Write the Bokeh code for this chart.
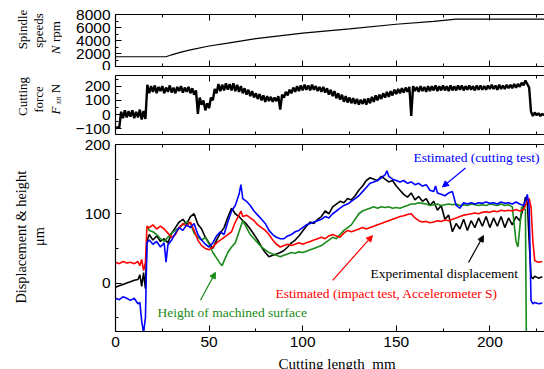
import math
from bokeh.plotting import figure
from bokeh.layouts import column, row
from bokeh.models import Range1d, LinearAxis, FixedTicker, Label, Arrow, NormalHead
from bokeh.core.properties import value
from bokeh.embed import file_html
from bokeh.resources import INLINE

# ---------------- data ----------------
# Spindle speed N [rpm] vs cutting length [mm]
spindle_x = [0, 27, 30, 35, 40, 50, 60, 75, 100, 125, 150, 170, 182, 229]
spindle_n = [1500, 1500, 1800, 2200, 2550, 3150, 3600, 4300, 5130, 5800, 6500, 6950, 7300, 7300]

# Cutting force F_xn [N], sampled every 1 mm (0 ... 229)
force_x = list(range(0, 230))
force_f = [-95, -90, -92, 20, -25, 30, -20, 25, -15, 30, -25, 20, -20, 35, -35, 25, -30,
           210, 150, 200, 160, 205, 150, 195, 165, 200, 150, 190, 160, 205, 155, 190, 150,
           195, 165, 200, 155, 190, 160, 195, 150, 185, 140, 170, 5, 120, 70, 100, 30, 80,
           45, 120, 100, 180, 150, 215, 165, 210, 170, 220, 175, 215, 170, 220, 165, 210,
           160, 200, 150, 185, 140, 175, 130, 165, 120, 150, 110, 145, 100, 135, 90, 130,
           95, 125, 90, 120, 95, 130, 35, 140, 120, 160, 135, 175, 150, 190, 160, 200, 165,
           205, 170, 210, 175, 205, 170, 210, 175, 200, 165, 195, 160, 195, 155, 185, 140,
           175, 130, 165, 115, 150, 105, 140, 90, 130, 85, 120, 80, 115, 75, 110, 70, 105,
           75, 110, 70, 115, 80, 125, 90, 135, 100, 140, 110, 150, 120, 160, 125, 165, 135,
           175, 145, 180, 150, 185, 155, 190, 160, 195, -10, 200, 165, 195, 160, 200, 165,
           195, 160, 200, 165, 200, 170, 205, 165, 200, 170, 205, 170, 200, 165, 205, 170,
           200, 170, 205, 175, 205, 170, 200, 175, 205, 175, 200, 170, 205, 175, 205, 175,
           200, 175, 205, 180, 210, 180, 205, 175, 210, 180, 205, 180, 210, 185, 210, 185,
           215, 190, 215, 195, 225, 205, 240, 215, 190, 20, -10, 15, -5, 10, -10, 5, -5]

# Experimental displacement [um]
exp_x = [0, 2, 4, 6, 8, 10, 12, 13, 14, 15, 16, 16.8, 18, 20, 22, 24, 26, 28, 30, 32, 34, 36, 38,
         40, 42, 44, 46, 48, 50, 52, 54, 56, 58, 60, 62, 64, 66, 68, 70, 72, 74, 76, 78, 80, 82,
         84, 86, 88, 90, 92, 94, 96, 98, 100, 102, 104, 106, 108, 110, 112, 114, 116, 118, 120,
         122, 124, 126, 128, 130, 132, 134, 136, 138, 140, 142, 144, 146, 148, 150, 152, 154,
         156, 158, 160, 162, 164, 166, 168, 170, 172, 174, 176, 178, 180, 182, 184, 186, 188,
         190, 192, 194, 196, 198, 200, 202, 204, 206, 208, 210, 212, 214, 216, 218, 219, 220,
         221, 222, 223, 224, 226, 228]
exp_y = [-6, -4, -2, 0, 2, 4, 5, 12, -5, 15, -8, 60, 70, 62, 68, 60, 64, 58, 72, 80, 88, 92, 85,
         96, 100, 85, 78, 66, 58, 50, 62, 72, 80, 95, 108, 100, 96, 90, 85, 78, 70, 62, 52, 44, 38,
         40, 42, 44, 47, 52, 58, 62, 68, 75, 82, 88, 86, 92, 96, 104, 100, 110, 114, 118,
         116, 122, 120, 126, 134, 140, 148, 152, 150, 148, 154, 150, 146, 148, 140, 134, 128,
         124, 130, 120, 125, 118, 122, 112, 118, 105, 112, 92, 98, 74, 86, 78, 92, 76,
         90, 80, 94, 82, 96, 80, 94, 82, 96, 80, 94, 84, 96, 90, 110, 124, 118,
         60, 10, 6, 10, 7, 9]

# Estimated (cutting test) [um]
cut_x = [0, 2, 4, 6, 8, 10, 12, 13, 14, 15, 16, 16.8, 18, 20, 22, 24, 26, 27, 28, 30, 32, 34, 36,
         38, 40, 42, 44, 46, 48, 50, 52, 54, 56, 58, 60, 62, 64, 66, 67, 68, 70, 72, 74, 76, 78,
         80, 82, 84, 86, 88, 90, 92, 94, 96, 98, 100, 102, 104, 106, 108, 110, 112, 114, 116,
         118, 120, 122, 124, 126, 128, 130, 132, 134, 136, 138, 140, 142, 144, 145, 146, 148,
         150, 152, 154, 156, 158, 160, 162, 164, 166, 168, 170, 171, 172, 174, 176, 178, 180,
         182, 184, 186, 188, 190, 192, 194, 196, 198, 200, 202, 204, 206, 208, 210, 212, 214,
         216, 218, 219, 220, 221, 222, 223, 224, 226, 228]
cut_y = [-22, -24, -20, -22, -25, -22, -30, -28, -55, -72, -50, 58, 62, 56, 60, 52, 58, 30, 55, 62,
         72, 80, 76, 84, 80, 86, 70, 62, 56, 52, 58, 68, 74, 70, 88, 104, 112, 128, 142, 122, 118,
         112, 104, 98, 92, 86, 76, 70, 66, 64, 64, 68, 70, 74, 76, 80, 84, 86, 88, 90, 92, 96, 94,
         100, 104, 108, 112, 114, 118, 122, 126, 132, 138, 144, 146, 148, 152, 156, 162, 154,
         150, 148, 146, 148, 144, 146, 142, 144, 140, 142, 134, 132, 140, 130, 128, 126, 130,
         132, 112, 108, 116, 114, 116, 114, 116, 115, 117, 115, 116, 114, 117, 115, 116, 114,
         117, 114, 112, 118, 128, 110, -25, -30, -28, -30, -29]

# Estimated (impact test, Accelerometer S) [um]
imp_x = [0, 2, 4, 6, 8, 10, 12, 13, 14, 15, 16, 16.8, 18, 20, 22, 24, 26, 28, 30, 32, 34, 36, 38,
         40, 42, 44, 46, 48, 50, 52, 54, 56, 58, 60, 62, 64, 66, 67, 68, 70, 72, 74, 76, 78, 80,
         82, 84, 86, 88, 90, 92, 94, 96, 98, 100, 102, 104, 106, 108, 110, 112, 114, 116, 118,
         120, 122, 124, 126, 128, 130, 132, 134, 136, 138, 140, 142, 144, 146, 148, 150, 152,
         154, 156, 158, 160, 162, 164, 166, 168, 170, 172, 174, 176, 178, 180, 182, 184, 186,
         188, 190, 192, 194, 196, 198, 200, 202, 204, 206, 208, 210, 212, 214, 216, 218, 220,
         221, 222, 223, 224, 226, 228]
imp_y = [30, 28, 31, 29, 30, 28, 31, 25, 34, 18, 30, 82, 80, 84, 78, 82, 78, 72, 66, 70, 80, 86, 82,
         88, 76, 62, 54, 50, 48, 52, 58, 62, 66, 70, 74, 88, 98, 104, 96, 98, 94, 90, 84, 80, 76,
         70, 62, 56, 52, 54, 56, 54, 56, 58, 56, 58, 60, 62, 64, 66, 64, 68, 70, 68,
         66, 72, 76, 74, 76, 78, 80, 78, 80, 82, 84, 86, 88, 90, 92, 94, 96,
         97, 99, 100, 94, 90, 88, 89, 87, 88, 90, 89, 91, 90, 92, 94, 96, 98,
         99, 100, 101, 100, 102, 103, 102, 104, 103, 105, 104, 105, 104, 106, 104, 106, 118,
         122, 110, 60, 32, 30, 31]

# Height of machined surface [um]
hgt_x = [17, 18, 20, 22, 24, 26, 28, 30, 32, 34, 36, 38, 40, 42, 44, 46, 48, 50, 52, 54, 56, 57,
         58, 60, 62, 64, 66, 68, 70, 72, 74, 76, 78, 80, 82, 84, 86, 88, 90, 92, 94, 96, 98, 100,
         102, 104, 106, 108, 110, 112, 114, 116, 118, 120, 122, 124, 126, 128, 130, 132, 134,
         136, 138, 140, 142, 144, 146, 148, 150, 152, 154, 156, 158, 160, 162, 164, 166, 168,
         170, 172, 174, 176, 178, 180, 182, 184, 186, 188, 190, 192, 194, 196, 198, 200, 202,
         204, 206, 208, 210, 212, 214, 215, 216, 217, 218, 219, 219.5]
hgt_y = [82, 76, 74, 70, 64, 60, 66, 72, 76, 80, 84, 88, 86, 72, 66, 62, 66, 56, 44, 36, 28, 25,
         32, 44, 52, 58, 74, 90, 80, 70, 64, 58, 52, 48, 44, 42, 40, 38, 40, 42, 44, 43, 45, 44,
         46, 48, 50, 52, 54, 58, 62, 66, 64, 70, 76, 80, 84, 92, 100, 104, 106,
         108, 110, 108, 110, 109, 110, 108, 109, 108, 110, 112, 114, 114, 116, 115, 114, 112,
         113, 114, 112, 113, 114, 113, 114, 112, 113, 112, 114, 113, 112, 113, 112, 114, 113,
         112, 114, 112, 113, 110, 60, 52, 80, 110, 108, 106, -80]

# ---------------- styling helpers ----------------
X_END = 229.2
SERIF = "Liberation Serif"
SANS = "Liberation Sans"
GREEN = "#1a8a1a"
LABEL_W = 62
MAIN_W = 482


def make_fig(height, yr, top, bottom):
    p = figure(width=MAIN_W, height=height, x_range=Range1d(0, X_END), y_range=Range1d(*yr),
               output_backend="svg", toolbar_location=None,
               min_border_left=53, min_border_right=0, min_border_top=top,
               min_border_bottom=bottom, x_axis_location=None, y_axis_location=None)
    p.outline_line_color = None
    p.xgrid.visible = False
    p.ygrid.visible = False
    return p


def make_text_fig(width, height):
    q = figure(width=width, height=height, x_range=Range1d(0, width),
               y_range=Range1d(0, height), output_backend="svg", toolbar_location=None,
               min_border=0, x_axis_location=None, y_axis_location=None)
    q.outline_line_color = None
    q.xgrid.visible = False
    q.ygrid.visible = False
    return q


def style_axis(ax, labels=True):
    ax.axis_line_color = "black"
    ax.axis_line_width = 1.2
    ax.major_tick_in = 6
    ax.major_tick_out = 0
    ax.minor_tick_in = 3
    ax.minor_tick_out = 0
    ax.major_tick_line_color = "black"
    ax.minor_tick_line_color = "black"
    if labels:
        ax.major_label_text_font = SANS
        ax.major_label_text_font_size = "15.5px"
        ax.major_label_text_color = "black"
        ax.major_label_standoff = 5
    else:
        ax.major_label_text_font_size = "0px"
        ax.major_label_standoff = 0


def add_axes(p, yt, ymin, xlabels):
    xt = FixedTicker(ticks=[0, 50, 100, 150, 200], minor_ticks=[25, 75, 125, 175, 225])
    below = LinearAxis(ticker=xt)
    style_axis(below, xlabels)
    above = LinearAxis(ticker=xt)
    style_axis(above, False)
    left = LinearAxis(ticker=FixedTicker(ticks=yt, minor_ticks=ymin))
    style_axis(left, True)
    p.add_layout(below, "below")
    p.add_layout(above, "above")
    p.add_layout(left, "left")
    return below


H1, H2, H3 = 70, 69, 215
HL = H1 + H2 + H3
H4 = 369 - HL

# one tall strip on the left holds all the rotated y titles (page coordinates)
lab = make_text_fig(LABEL_W, HL)


def vlab(text, x, page_y, italic=False, size="13px"):
    lab.text(x=[x], y=[HL - page_y], text=[text], angle=math.pi / 2,
             text_align="center", text_baseline="middle",
             text_font=value(SERIF), text_font_size=value(size),
             text_font_style="italic" if italic else "normal",
             text_color="black")


# ---------------- panel 1: spindle speed ----------------
p1 = make_fig(H1, (0, 8000), 14, 4)
add_axes(p1, [0, 2000, 4000, 6000, 8000], [1000, 3000, 5000, 7000], False)
p1.line(spindle_x, spindle_n, line_color="black", line_width=1.2)
vlab("Spindle", 22, 29)
vlab("speeds", 38, 30)
vlab("rpm", 55, 31)
vlab("N", 55, 49.5, italic=True)

# ---------------- panel 2: cutting force ----------------
p2 = make_fig(H2, (-140, 275), 5, 5)
add_axes(p2, [-100, 0, 100, 200], [-50, 50, 150, 250], False)
p2.line(force_x, force_f, line_color="black", line_width=2.4)
vlab("Cutting", 22, 96)
vlab("force", 38, 99)
vlab("F", 55, 110, italic=True)
vlab("xn", 58, 100, italic=True, size="8px")
vlab("N", 55, 88)

# ---------------- panel 3: displacement & height ----------------
p3 = make_fig(H3, (-70, 200), 5, 23)
add_axes(p3, [0, 100, 200], [-50, 50, 150], True)
p3.line(exp_x, exp_y, line_color="black", line_width=1.6)
p3.line(hgt_x, hgt_y, line_color=GREEN, line_width=1.6)
p3.line(imp_x, imp_y, line_color="red", line_width=1.6)
p3.line(cut_x, cut_y, line_color="blue", line_width=1.6)
vlab("Displacement & height", 20, 236.7, size="14.3px")
vlab("\u03bcm", 38, 236, size="14.3px")

# bottom strip holding the x-axis title (cut by the window edge as in the reference)
l4 = make_text_fig(LABEL_W + MAIN_W, H4)
l4.text(x=[336.5], y=[H4 - (363 - HL)], text=["Cutting length\u2002mm"],
        text_align="center", text_baseline="middle", text_font=value(SERIF),
        text_font_size=value("15px"), text_color="black")


def note(text, x, y, color):
    p3.add_layout(Label(x=x, y=y, text=text, text_align="left", text_baseline="middle",
                        text_font=SERIF, text_font_size="13.5px", text_color=color))


def arrow(x0, y0, x1, y1, color):
    p3.add_layout(Arrow(x_start=x0, y_start=y0, x_end=x1, y_end=y1, line_color=color,
                        line_width=1.2,
                        end=NormalHead(size=6, fill_color=color, line_color=color)))


note("Estimated (cutting test)", 159.2, 181.8, "blue")
arrow(187.0, 166.0, 174.7, 138.7, "blue")
note("Experimental displacement", 136.3, 13.9, "black")
arrow(188.6, 29.7, 196.6, 68.4, "black")
note("Estimated (impact test, Accelerometer S)", 85.5, -14.8, "red")
arrow(116.0, 3.9, 137.3, 68.4, "red")
note("Height of machined surface", 22.4, -42.0, GREEN)
arrow(45.4, -24.8, 53.4, 15.4, GREEN)

layout = column(row(lab, column(p1, p2, p3, spacing=0), spacing=0), l4, spacing=0)
open("out.html", "w").write(file_html(layout, INLINE))
